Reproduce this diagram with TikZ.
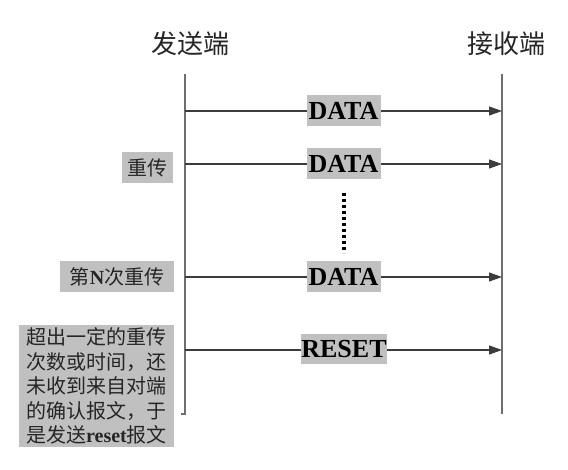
\documentclass[tikz,border=0pt]{standalone}
\usepackage{fontspec}
\setmainfont{Liberation Serif}
\newfontfamily\cjk{Noto Sans CJK SC}
\usetikzlibrary{arrows.meta}
\definecolor{boxgray}{RGB}{192,192,192}
\definecolor{lifegray}{RGB}{110,110,110}
\definecolor{msggray}{RGB}{60,60,60}
\tikzset{
  lifeline/.style={draw=lifegray, line width=1.3pt},
  msg/.style={draw=msggray, line width=1.1pt, -{Triangle[length=13pt,width=9pt]}},
  msglabel/.style={fill=boxgray, inner sep=0pt, minimum height=31pt, text=black,
    font=\fontsize{26}{26}\selectfont\bfseries},
  sidelabel/.style={fill=boxgray, inner sep=0pt, minimum height=31pt, text=black!85,
    font=\fontsize{20}{20}\selectfont},
  title/.style={inner sep=0pt, text=black!85, font=\fontsize{26}{26}\selectfont\cjk},
}
\begin{document}
\begin{tikzpicture}[x=1pt,y=-1pt]
\useasboundingbox (0,0) rectangle (568,470);
% titles
\node[title] (snd) at (190,44) {发送端};
\node[title] (rcv) at (506,44) {接收端};
% lifelines
\coordinate (Ltop) at (185,74);
\coordinate (Lbot) at (185,414);
\coordinate (Ltick) at (181,414);
\coordinate (Rtop) at (502,74);
\coordinate (Rbot) at (502,414);
\draw[lifeline] (Ltop) -- (Lbot) -- (Ltick);
\draw[lifeline] (Rtop) -- (Rbot);
% message endpoints
\foreach \n/\y in {1/111,2/164,3/277,4/350}{
  \coordinate (L\n) at (185,\y);
  \coordinate (R\n) at (502,\y);
}
\draw[msg] (L1) -- (R1);
\draw[msg] (L2) -- (R2);
\draw[msg] (L3) -- (R3);
\draw[msg] (L4) -- (R4);
% message labels
\node[msglabel, minimum width=74pt] (d1) at (343.5,110.5) {DATA};
\node[msglabel, minimum width=74pt] (d2) at (343.5,164) {DATA};
\node[msglabel, minimum width=74pt] (d3) at (343.5,277) {DATA};
\node[msglabel, minimum width=86pt, minimum height=30pt] (rs) at (344,349.5) {RESET};
% dots
\coordinate (dtop) at (344,193);
\coordinate (dbot) at (344,253);
\draw[black, line width=3.2pt, dash pattern=on 3pt off 3pt] (dtop) -- (dbot);
% side labels
\node[sidelabel, minimum width=51pt] (re1) at (147.5,167.5) {\cjk 重传};
\node[sidelabel, minimum width=114pt] (reN) at (117,276.5) {{\cjk 第}{\bfseries N}{\cjk 次重传}};
\node[sidelabel, minimum width=155pt, minimum height=122pt, align=left,
      font=\fontsize{20}{24.4}\selectfont] (fin) at (96.5,386)
  {{\cjk 超出一定的重传}\\{\cjk 次数或时间，还}\\{\cjk 未收到来自对端}\\{\cjk 的确认报文，于}\\{\cjk 是发送}{\bfseries reset}{\cjk 报文}};
\end{tikzpicture}
\end{document}
